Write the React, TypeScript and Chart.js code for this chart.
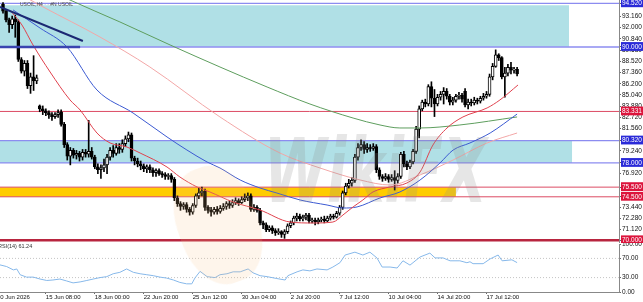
import React, { useEffect, useRef } from 'react';
import { Chart, registerables } from 'chart.js';
Chart.register(...registerables);

// ---------- candle data (H4 bars, index 0..168) ----------
const OPEN = [94.4,93.7,92.8,92.3,92.9,92.6,88.7,87.5,88.3,86.0,86.9,86.5,83.9,83.6,83.4,83.2,83.0,82.8,83.0,83.3,82.0,79.9,78.7,79.3,78.8,79.0,78.6,79.1,78.9,79.2,78.6,77.6,77.3,77.5,77.8,78.6,79.3,79.0,79.6,79.4,80.0,80.5,80.9,78.5,78.2,77.9,77.7,77.4,77.6,77.3,77.0,77.2,76.9,76.8,76.6,76.7,76.3,74.4,73.8,73.5,73.7,73.2,72.9,73.6,74.6,74.9,75.1,73.4,73.1,72.9,73.2,73.0,73.3,73.5,73.8,73.6,73.9,74.1,73.9,74.2,74.4,74.6,73.2,73.4,73.1,71.8,71.6,71.1,71.3,71.0,70.8,70.9,70.6,70.9,71.5,71.8,72.3,72.5,72.2,72.4,72.6,72.0,72.1,71.9,72.1,72.2,72.0,72.3,72.5,72.4,72.8,73.4,74.9,75.6,75.9,76.2,78.6,79.6,79.9,79.4,79.6,79.5,79.7,77.3,76.6,76.4,76.6,76.3,76.5,76.2,76.6,78.9,77.9,77.6,78.1,79.2,81.5,83.6,84.3,84.1,85.9,84.7,84.1,84.8,85.1,85.4,84.9,84.3,84.5,84.9,85.0,85.4,84.0,84.3,84.2,84.5,84.4,84.7,84.9,85.1,86.9,88.0,89.2,88.9,86.9,87.3,87.9,87.6,87.7];
const HIGH = [94.6,93.9,93.0,93.2,93.3,92.8,88.9,88.6,88.6,87.3,89.1,87.1,84.0,83.9,83.6,83.4,83.2,83.2,83.5,83.5,82.2,80.1,79.6,79.5,79.3,79.2,79.4,79.4,82.4,79.6,78.8,77.9,77.8,78.4,78.9,79.6,79.8,80.0,80.0,80.4,80.8,81.2,81.1,78.7,78.5,78.2,77.9,77.8,77.8,77.5,77.4,77.4,77.1,77.0,76.9,76.9,76.5,74.6,74.0,73.9,73.9,73.4,73.8,74.8,75.4,75.5,75.3,73.6,73.4,73.4,73.5,73.6,73.8,74.0,74.1,74.2,74.4,74.3,74.5,74.8,74.9,74.8,73.7,73.6,73.3,72.0,71.8,71.5,71.5,71.2,71.2,71.0,71.1,71.7,72.0,72.5,72.8,72.7,72.6,72.8,72.8,72.3,72.3,72.3,72.4,72.5,72.5,72.7,72.7,73.0,73.6,75.1,75.9,76.3,76.5,78.9,80.0,80.4,80.2,80.0,79.9,80.0,79.9,77.5,76.8,76.9,76.8,76.8,77.2,76.9,79.1,79.2,78.2,78.3,79.4,81.8,83.9,84.5,84.6,86.1,86.4,85.6,85.1,85.4,85.8,85.7,85.1,84.8,85.1,85.3,85.2,85.7,84.6,84.6,84.8,84.7,84.9,85.2,85.4,87.2,88.3,89.7,89.3,89.0,87.9,88.2,88.4,87.9,87.9];
const LOW = [93.5,92.6,91.5,91.9,91.0,88.5,87.3,87.0,85.7,85.2,85.5,86.2,83.3,83.0,82.9,82.6,82.4,82.6,82.7,81.8,79.6,78.3,77.8,78.5,78.4,78.2,78.3,78.6,78.6,78.4,77.4,76.9,76.4,77.1,76.9,78.3,78.6,78.8,79.0,79.1,79.7,80.2,78.2,77.8,77.6,77.3,77.1,77.0,77.0,76.6,76.6,76.7,76.5,76.3,76.3,76.0,74.1,73.5,73.1,73.2,72.9,72.6,72.7,73.4,74.3,74.6,73.1,72.8,72.5,72.7,72.7,72.8,73.1,73.2,73.3,73.4,73.7,73.6,73.8,74.0,74.1,73.0,73.0,72.9,71.6,71.2,70.9,70.9,70.7,70.5,70.6,70.3,70.2,70.7,71.3,71.6,72.0,72.0,72.0,72.1,71.8,71.8,71.6,71.7,71.9,71.8,71.9,72.1,72.2,72.3,72.6,73.2,74.7,75.4,75.6,76.0,78.3,79.3,79.0,79.1,79.2,79.3,77.0,76.3,76.1,76.2,76.0,76.1,75.2,75.9,76.4,77.6,77.3,77.4,77.9,79.0,80.6,83.4,83.8,83.9,83.8,82.8,83.9,84.5,84.1,84.6,84.0,84.0,84.3,84.6,84.3,83.8,83.6,83.9,84.0,84.1,84.2,84.5,84.7,84.9,86.6,87.9,88.6,86.7,84.8,87.0,87.2,87.3,87.0];
const CLOSE = [93.7,92.8,92.3,92.9,92.6,88.7,87.5,88.3,86.0,86.9,86.5,86.8,83.6,83.4,83.2,83.0,82.8,83.0,83.2,82.0,79.9,78.7,79.3,78.8,79.0,78.6,79.1,78.9,79.2,78.6,77.6,77.3,77.5,77.8,78.6,79.3,79.0,79.6,79.4,80.0,80.5,80.9,78.5,78.2,77.9,77.7,77.4,77.6,77.3,77.0,77.2,76.9,76.8,76.6,76.7,76.3,74.4,73.8,73.5,73.7,73.2,72.9,73.6,74.6,74.9,75.1,73.4,73.1,72.9,73.2,73.0,73.3,73.5,73.8,73.6,73.9,74.1,73.9,74.2,74.4,74.6,73.2,73.4,73.1,71.8,71.6,71.1,71.3,71.0,70.8,70.9,70.6,70.9,71.5,71.8,72.3,72.5,72.2,72.4,72.6,72.0,72.1,71.9,72.1,72.2,72.0,72.3,72.5,72.4,72.8,73.4,74.9,75.6,75.9,76.2,78.6,79.6,79.9,79.4,79.6,79.5,79.7,77.3,76.6,76.4,76.6,76.3,76.5,76.2,76.6,78.9,77.9,77.6,78.1,79.2,81.5,83.6,84.3,84.1,85.9,84.7,84.1,84.8,85.1,85.4,84.9,84.3,84.5,84.9,85.0,84.6,84.0,84.3,84.2,84.5,84.4,84.7,84.9,85.1,86.9,88.0,89.2,88.9,86.9,87.3,87.9,87.6,87.7,87.2];

// ---------- moving averages: [bar index, price] ----------
const MA_RED = [[2.9,93.6],[6.2,92.27],[9.8,90.21],[15.4,87.41],[21.9,84.52],[25.2,83.48],[30.7,81.1],[35.0,80.07],[40.5,79.65],[44.8,79.03],[53.6,77.58],[57.8,76.55],[63.4,75.52],[67.6,75.0],[75.2,73.96],[84.0,73.13],[93.8,71.89],[101.3,71.79],[107.8,71.89],[111.1,72.62],[114.4,73.45],[117.6,74.17],[120.9,75.0],[126.5,75.52],[132.0,75.93],[136.3,77.07],[140.5,79.86],[145.1,81.62],[150.3,82.76],[158.2,83.69],[162.4,84.52],[168.3,86.07]];
const MA_BLUE = [[3.3,93.83],[12.1,91.96],[20.9,90.0],[30.7,85.55],[42.5,83.17],[53.6,80.69],[60.1,79.34],[66.7,78.1],[70.9,77.48],[77.5,76.24],[84.0,75.41],[89.5,74.89],[97.1,74.17],[105.9,73.65],[111.1,73.34],[115.7,73.45],[123.2,74.38],[129.7,75.0],[136.3,76.24],[142.8,78.0],[147.1,79.34],[152.6,80.07],[159.2,81.1],[168.0,83.06]];
const MA_PINK = [[7.2,95.17],[13.1,94.14],[31.7,91.03],[48.0,87.93],[70.9,82.76],[90.5,79.03],[103.6,77.48],[116.7,76.24],[126.5,75.72],[136.3,76.76],[147.1,78.31],[158.2,80.07],[168.0,81.1]];
const MA_GREEN = [[18.6,95.38],[21.9,94.86],[38.2,92.59],[54.6,90.21],[70.9,87.93],[86.3,85.86],[100.3,84.1],[114.4,82.65],[123.2,81.93],[129.7,81.62],[136.3,81.62],[149.3,81.93],[168.0,82.76]];

// ---------- RSI(14): [bar index, value] ----------
const RSI_POINTS = [[-1,56.5],[1.2,53],[3.4,46],[4.5,48],[5.6,36],[7.7,31],[9.9,31],[12.1,27],[14.3,24],[16.3,25],[18.6,27],[20.8,23],[22.9,19],[25.2,21],[27.4,24],[29.5,27],[31.7,30],[33.9,32],[36.0,38],[38.2,41],[40.4,48],[42.6,41],[44.8,38],[47.0,36],[49.1,34],[51.3,31],[53.5,29],[55.7,25],[57.8,20],[60.0,17],[61.7,17],[62.7,29],[64.4,43],[66.7,32],[69.3,30],[70.9,36],[73.2,38],[75.2,42],[77.5,42],[80.1,48],[81.7,40],[84.0,34],[86.3,32],[89.5,28],[92.2,25],[93.1,34],[96.1,42],[98.0,46],[100.3,44],[102.6,48],[105.9,46],[107.8,52],[110.1,61],[111.8,77],[115.0,83],[117.6,77],[119.9,83],[122.2,71],[123.9,52],[126.5,52],[128.8,50],[130.7,65],[133.0,56],[136.3,73],[139.5,81],[141.2,71],[143.8,71],[146.1,65],[149.3,65],[151.6,61],[152.6,63],[153.6,59],[156.9,59],[159.2,69],[161.8,77],[163.1,65],[166.3,67],[168.0,61.24]];
const RSI_LEVELS = [70, 30];
const RSI_TICKS = [100, 70, 30, 0];

// ---------- price axis, levels, zones, drawn objects ----------
const PRICE_TICKS = [93.16, 92.0, 90.84, 89.68, 88.52, 87.36, 86.2, 85.04, 83.88, 82.72, 81.56, 79.24, 76.92, 73.44, 72.28, 71.12];
const BLUE_LEVELS = [94.52, 90.0, 80.32, 78.0];
const RED_LEVELS = [83.331, 75.5, 74.5, 70.0];
const BLUE_ZONES = [[94.31, 90.03, 185.0], [80.32, 78.0, 186.0]]; // top, bottom, end bar
const GOLD_ZONES = [[75.5, 74.5, 148.0]];
const TRENDLINE = [[-0.98, 94.14], [26.1, 90.62]];
const SUPPORT_SEGMENT = [[-0.98, 90.0], [25.2, 90.0]];

// ---------- time axis ----------
const TIME_LABELS = ['10 Jun 2026', '15 Jun 08:00', '18 Jun 00:00', '22 Jun 20:00', '25 Jun 12:00', '30 Jun 04:00', '2 Jul 20:00', '7 Jul 12:00', '10 Jul 04:00', '14 Jul 20:00', '17 Jul 12:00'];
const TIME_BARS = [-2, 14, 30, 46, 62, 78, 94, 110, 126, 142, 158];

const X_MIN = -0.98;
const X_MAX = 201.3;
const Y_MIN = 69.72;
const Y_MAX = 94.86;

const FONT = 'Liberation Sans, Arial, sans-serif';
const BLUE_BOX = '#2a2ad8';
const RED_BOX = '#dc143c';

const pts = (arr: number[][]) => arr.map(([x, y]) => ({ x, y }));
const hline = (v: number) => [{ x: X_MIN, y: v }, { x: X_MAX, y: v }];
const isBlue = (v: number) => BLUE_LEVELS.some((b) => Math.abs(b - v) < 1e-6);
const isRed = (v: number) => RED_LEVELS.some((b) => Math.abs(b - v) < 1e-6);

export default function App() {
  const mainRef = useRef<HTMLCanvasElement>(null);
  const rsiRef = useRef<HTMLCanvasElement>(null);

  useEffect(() => {
    const lineDs = (data: any, color: string, width = 1, extra: any = {}) => ({
      type: 'line', data, borderColor: color, borderWidth: width, pointRadius: 0, fill: false, ...extra,
    });

    const zoneDs = (z: number[], color: string) =>
      lineDs([{ x: X_MIN, y: z[0] }, { x: z[2], y: z[0] }], 'rgba(0,0,0,0)', 0, {
        fill: { value: z[1] }, backgroundColor: color,
      });

    const main = new Chart(mainRef.current!, {
      type: 'bar',
      data: {
        datasets: [
          lineDs(pts(TRENDLINE), '#1c2873', 2),
          lineDs(pts(SUPPORT_SEGMENT), '#3a44b0', 2.5),
          lineDs(pts(MA_RED), '#e0424e', 1, { cubicInterpolationMode: 'monotone' }),
          lineDs(pts(MA_BLUE), '#3c5ad2', 1, { cubicInterpolationMode: 'monotone' }),
          lineDs(pts(MA_PINK), '#f3a7a7', 1, { cubicInterpolationMode: 'monotone' }),
          lineDs(pts(MA_GREEN), '#5e9e5e', 1, { cubicInterpolationMode: 'monotone' }),
          {
            type: 'bar',
            data: OPEN.map((o, i) => ({ x: i, y: [o, CLOSE[i]] })),
            backgroundColor: OPEN.map((o, i) => (CLOSE[i] >= o ? '#ffffff' : '#000000')),
            borderColor: '#000000', borderWidth: 1, borderSkipped: false,
            barThickness: 3, grouped: false,
          },
          {
            type: 'bar',
            data: LOW.map((l, i) => ({ x: i, y: [l, HIGH[i]] })),
            backgroundColor: '#000000', borderWidth: 0,
            barThickness: 1, grouped: false,
          },
          ...BLUE_LEVELS.map((v) => lineDs(hline(v), '#8c8cf0', 1.3)),
          ...RED_LEVELS.map((v) => lineDs(hline(v), v === 70 ? '#b8253f' : '#dc4b63', v === 70 ? 2.5 : 1)),
          ...BLUE_ZONES.map((z) => zoneDs(z, '#b0e0e6')),
          ...GOLD_ZONES.map((z) => zoneDs(z, '#ffcc00')),
        ] as any,
      },
      options: {
        animation: false,
        responsive: false,
        events: [],
        layout: { padding: 0 },
        plugins: { legend: { display: false }, tooltip: { enabled: false } },
        scales: {
          x: { type: 'linear', min: X_MIN, max: X_MAX, display: false, offset: false, bounds: 'data' },
          y: {
            type: 'linear', position: 'right', min: Y_MIN, max: Y_MAX, beginAtZero: false, bounds: 'data',
            afterBuildTicks: (s: any) => {
              s.ticks = [...PRICE_TICKS, ...BLUE_LEVELS, ...RED_LEVELS].map((v) => ({ value: v }));
            },
            afterFit: (s: any) => { s.width = 24; s.paddingTop = 0; s.paddingBottom = 0; },
            grid: { drawOnChartArea: false, drawTicks: true, tickLength: 2, color: '#666' },
            border: { display: true, color: '#888' },
            ticks: {
              autoSkip: false, padding: 1,
              font: { family: FONT, size: 6.5 },
              callback: (v: any) => Number(v).toFixed(3),
              color: (c: any) => (isBlue(c.tick.value) || isRed(c.tick.value) ? '#ffffff' : '#111111'),
              showLabelBackdrop: (c: any) => isBlue(c.tick.value) || isRed(c.tick.value),
              backdropColor: (c: any) => (isBlue(c.tick.value) ? BLUE_BOX : RED_BOX),
              backdropPadding: { left: 1, right: 4, top: 1, bottom: 0 },
            } as any,
          },
        },
      } as any,
    });

    const rsi = new Chart(rsiRef.current!, {
      type: 'line',
      data: {
        datasets: [
          lineDs(pts(RSI_POINTS), '#86b8ea', 1),
          ...RSI_LEVELS.map((v) => lineDs(hline(v), '#c4c4c4', 1, { borderDash: [1, 2] })),
        ] as any,
      },
      options: {
        animation: false,
        responsive: false,
        events: [],
        layout: { padding: { top: 1, left: 0, right: 0, bottom: 0 } },
        plugins: { legend: { display: false }, tooltip: { enabled: false } },
        scales: {
          x: {
            type: 'linear', min: X_MIN, max: X_MAX, offset: false, bounds: 'data',
            afterBuildTicks: (s: any) => { s.ticks = TIME_BARS.map((v) => ({ value: v })); },
            afterFit: (s: any) => { s.height = 10; s.paddingLeft = 0; s.paddingRight = 0; },
            grid: { drawOnChartArea: false, drawTicks: true, tickLength: 2, color: '#666' },
            border: { display: true, color: '#888' },
            ticks: {
              autoSkip: false, maxRotation: 0, minRotation: 0, align: 'start', padding: 0,
              font: { family: FONT, size: 6 }, color: '#111',
              callback: (_v: any, i: number) => TIME_LABELS[i],
            },
          },
          y: {
            type: 'linear', position: 'right', min: 0, max: 100, bounds: 'data',
            afterBuildTicks: (s: any) => { s.ticks = RSI_TICKS.map((v) => ({ value: v })); },
            afterFit: (s: any) => { s.width = 24; s.paddingTop = 0; s.paddingBottom = 0; },
            grid: { drawOnChartArea: false, drawTicks: true, tickLength: 2, color: '#666' },
            border: { display: true, color: '#888' },
            ticks: {
              autoSkip: false, padding: 1,
              font: { family: FONT, size: 6.5 }, color: '#111',
              callback: (v: any) => Number(v).toFixed(2),
            },
          },
        },
      } as any,
    });

    return () => { main.destroy(); rsi.destroy(); };
  }, []);

  return (
    <div style={{ position: 'fixed', left: 0, top: 0, width: 643, height: 302, background: '#fff', overflow: 'hidden' }}>
      <canvas ref={mainRef} width={643} height={243} style={{ position: 'absolute', left: 0, top: 0, display: 'block' }} />
      <canvas ref={rsiRef} width={643} height={59} style={{ position: 'absolute', left: 0, top: 243, display: 'block' }} />
      <div style={{ position: 'absolute', left: 20, top: 0, fontFamily: FONT, fontSize: 5, color: '#444', whiteSpace: 'nowrap', lineHeight: '8px' }}>
        USOIL,H4 · · #N USOIL
      </div>
      <div style={{ position: 'absolute', left: -2, top: 243, fontFamily: FONT, fontSize: 5.5, color: '#333', whiteSpace: 'nowrap', lineHeight: '7px' }}>
        RSI(14) 61.24
      </div>
      <div style={{ position: 'absolute', left: 178, top: 165, width: 80, height: 120, borderRadius: '45%', background: 'rgba(250,190,130,0.16)', transform: 'rotate(-20deg)', pointerEvents: 'none' }} />
      <div style={{ position: 'absolute', left: 264, top: 118, fontFamily: 'DejaVu Sans', fontWeight: 'bold', fontStyle: 'italic', fontSize: 62, color: 'rgba(140,140,140,0.22)', whiteSpace: 'nowrap', pointerEvents: 'none', transform: 'scale(0.92,1.45)', transformOrigin: 'left top' }}>
        WikiFX
      </div>
    </div>
  );
}
